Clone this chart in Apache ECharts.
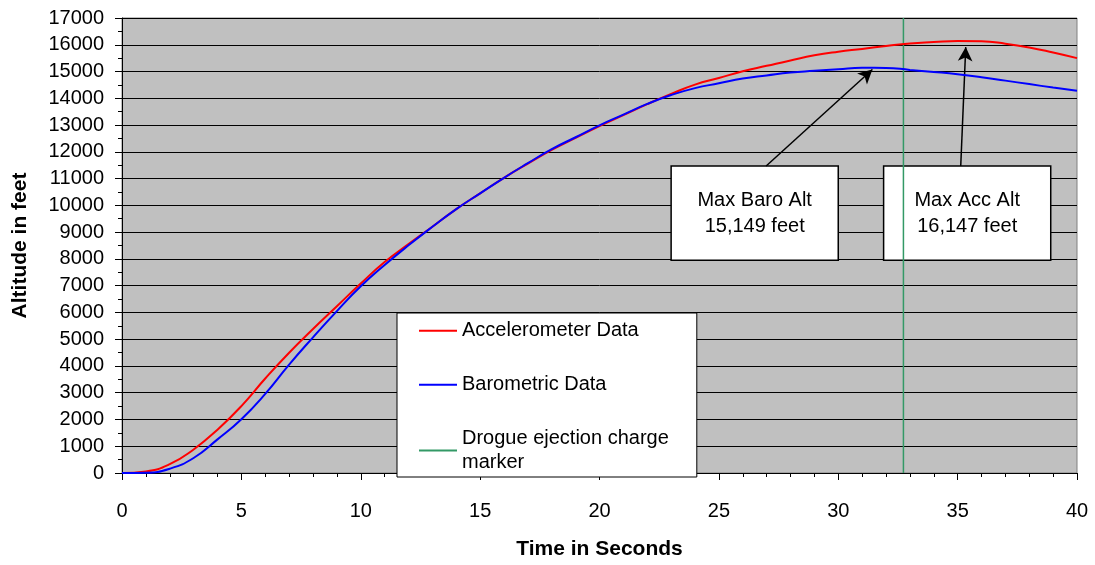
<!DOCTYPE html>
<html><head><meta charset="utf-8">
<script src="https://cdn.jsdelivr.net/npm/echarts@6/dist/echarts.min.js"></script>
<style>html,body{margin:0;padding:0;background:#fff}#c{width:1095px;height:565px}</style>
</head><body><div id="c"></div>
<script>
// ---- data ----
const timeSec = [0,1,2,3,4,5,6,7,8,9,10,11,12,13,14,15,16,17,18,19,20,21,22,23,24,25,26,27,28,29,30,31,32,33,34,35,36,37,38,39,40];
const accAlt  = [0,60,330,880,1620,2500,3530,4495,5380,6230,7080,7880,8550,9200,9860,10450,11030,11560,12070,12520,12960,13370,13780,14164,14510,14759,15010,15213,15415,15605,15740,15845,15955,16050,16100,16140,16130,16040,15900,15710,15500];
const baroAlt = [0,10,160,560,1256,2010,2956,4050,5070,6050,6975,7770,8507,9200,9860,10450,11030,11575,12100,12545,12990,13390,13790,14122,14380,14560,14738,14855,14963,15025,15085,15138,15135,15060,14985,14900,14790,14660,14530,14400,14280];
const drogueTime = 32.73;
const drogueAlt = [0, 17000];
const seriesNames = ['Accelerometer Data', 'Barometric Data', 'Drogue ejection charge marker'];
const annotations = [
  { lines: ['Max Baro Alt', '15,149 feet'], box: [[23.0, 11470], [30.0, 7950]], from: [26.98, 11470], to: [31.43, 15074] },
  { lines: ['Max Acc Alt', '16,147 feet'], box: [[31.9, 11470], [38.9, 7950]], from: [35.13, 11470], to: [35.34, 15912] }
];

const FONT = '"Liberation Sans", Arial, sans-serif';
const chart = echarts.init(document.getElementById('c'), null, { renderer: 'canvas' });

const pairs = (xs, ys) => xs.map((x, i) => [x, ys[i]]);

chart.setOption({
  animation: false,
  backgroundColor: '#ffffff',
  textStyle: { fontFamily: FONT },
  grid: {
    left: 122, top: 18, right: 18, bottom: 83,
    show: true, backgroundColor: '#C0C0C0', borderColor: '#808080', borderWidth: 1
  },
  legend: {
    orient: 'vertical', left: 397, top: 313,
    data: seriesNames,
    icon: 'rect',
    itemWidth: 38, itemHeight: 2, itemGap: 30.5,
    padding: [6, 28, 3, 22],
    backgroundColor: '#ffffff', borderColor: '#000000', borderWidth: 1,
    textStyle: { fontFamily: FONT, fontSize: 20, color: '#000', lineHeight: 23.5 },
    formatter: n => n === seriesNames[2] ? 'Drogue ejection charge\nmarker' : n,
    selectedMode: false
  },
  xAxis: {
    type: 'value', min: 0, max: 40, interval: 5,
    name: 'Time in Seconds', nameLocation: 'middle', nameGap: 66,
    nameTextStyle: { fontFamily: FONT, fontWeight: 'bold', fontSize: 21, color: '#000' },
    axisLine: { show: true, onZero: false, lineStyle: { color: '#000', width: 1 } },
    axisTick: { show: true, length: 7, lineStyle: { color: '#000' } },
    minorTick: { show: true, splitNumber: 5, length: 4, lineStyle: { color: '#000' } },
    splitLine: { show: false },
    axisLabel: { fontFamily: FONT, fontSize: 20, color: '#000', margin: 28 }
  },
  yAxis: {
    type: 'value', min: 0, max: 17000, interval: 1000,
    name: 'Altitude in feet', nameLocation: 'middle', nameGap: 91, nameRotate: 90,
    nameTextStyle: { fontFamily: FONT, fontWeight: 'bold', fontSize: 21, color: '#000' },
    axisLine: { show: true, lineStyle: { color: '#000', width: 1 } },
    axisTick: { show: true, length: 7, lineStyle: { color: '#000' } },
    minorTick: { show: true, splitNumber: 2, length: 4, lineStyle: { color: '#000' } },
    splitLine: { show: true, lineStyle: { color: '#000', width: 1 } },
    axisLabel: { fontFamily: FONT, fontSize: 20, color: '#000', margin: 18, formatter: v => String(v) }
  },
  series: [
    {
      name: seriesNames[0], type: 'line', data: pairs(timeSec, accAlt),
      symbol: 'none', smooth: 0.5, z: 4,
      lineStyle: { color: '#FF0000', width: 2 }, itemStyle: { color: '#FF0000' }
    },
    {
      name: seriesNames[1], type: 'line', data: pairs(timeSec, baroAlt),
      symbol: 'none', smooth: 0.5, z: 5,
      lineStyle: { color: '#0000FF', width: 2 }, itemStyle: { color: '#0000FF' }
    },
    {
      name: seriesNames[2], type: 'line', data: drogueAlt.map(a => [drogueTime, a]),
      symbol: 'none', z: 3,
      lineStyle: { color: '#339966', width: 1.5 }, itemStyle: { color: '#339966' }
    },
    {
      name: 'annotations', type: 'line', data: [], z: 10, silent: true,
      markArea: {
        silent: true,
        itemStyle: { color: '#ffffff', borderColor: '#000000', borderWidth: 1.5, opacity: 1 },
        label: {
          show: true, position: 'inside', color: '#000', fontFamily: FONT,
          fontSize: 20, lineHeight: 26, align: 'center', verticalAlign: 'middle'
        },
        emphasis: { disabled: true },
        data: annotations.map(a => [
          { coord: a.box[0], name: a.lines.join('\n') },
          { coord: a.box[1] }
        ])
      },
      markLine: {
        silent: true,
        symbol: ['none', 'arrow'], symbolSize: [11, 14],
        lineStyle: { color: '#000000', width: 1.5, type: 'solid' },
        label: { show: false },
        emphasis: { disabled: true },
        data: annotations.map(a => [{ coord: a.from }, { coord: a.to }])
      }
    }
  ]
});
</script>
</body></html>
